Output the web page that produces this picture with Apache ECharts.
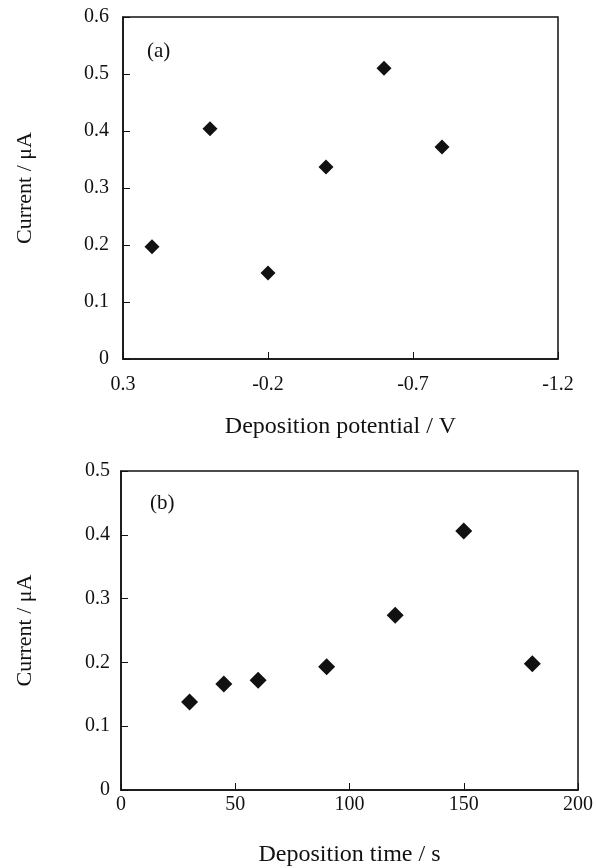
<!DOCTYPE html>
<html>
<head>
<meta charset="utf-8">
<script src="https://cdn.jsdelivr.net/npm/echarts@6/dist/echarts.min.js"></script>
<style>
html,body{margin:0;padding:0;background:#fff;}
#main{width:596px;height:868px;}
</style>
</head>
<body>
<div id="main"></div>
<script>
// Panel (a): current vs deposition potential
const potentialV = [0.2, 0.0, -0.2, -0.4, -0.6, -0.8];
const currentA = [0.197, 0.404, 0.151, 0.337, 0.510, 0.372];
// Panel (b): current vs deposition time
const timeS = [30, 45, 60, 90, 120, 150, 180];
const currentB = [0.138, 0.166, 0.172, 0.193, 0.274, 0.406, 0.198];

const FONT = '"Liberation Serif", "DejaVu Serif", serif';
const INK = '#111';

const chart = echarts.init(document.getElementById('main'), null, {renderer: 'canvas'});

function axisCommon() {
  return {
    axisLine: {show: true, onZero: false, lineStyle: {color: INK, width: 1.5}},
    axisTick: {show: true, inside: true, length: 7, lineStyle: {color: INK, width: 1}},
    splitLine: {show: false},
    axisLabel: {color: INK, fontFamily: FONT, fontSize: 20},
    nameTextStyle: {color: INK, fontFamily: FONT, fontSize: 24}
  };
}

const option = {
  animation: false,
  backgroundColor: '#fff',
  grid: [
    {left: 123, top: 17, width: 435, height: 342, show: true, borderColor: INK, borderWidth: 1.5, backgroundColor: 'transparent'},
    {left: 121, top: 471, width: 461, height: 322, show: true, borderColor: INK, borderWidth: 1.5, backgroundColor: 'transparent'}
  ],
  xAxis: [
    Object.assign(axisCommon(), {
      type: 'value', gridIndex: 0, min: -1.2, max: 0.3, interval: 0.5, inverse: true,
      name: 'Deposition potential / V', nameLocation: 'middle', nameGap: 56,
      axisLabel: {color: INK, fontFamily: FONT, fontSize: 20, margin: 16, formatter: v => v.toFixed(1)}
    }),
    Object.assign(axisCommon(), {
      type: 'value', gridIndex: 1, min: 0, max: 200, interval: 50,
      name: 'Deposition time / s', nameLocation: 'middle', nameGap: 53,
      axisLabel: {color: INK, fontFamily: FONT, fontSize: 20, margin: 5}
    })
  ],
  yAxis: [
    Object.assign(axisCommon(), {
      type: 'value', gridIndex: 0, min: 0, max: 0.6, interval: 0.1,
      name: 'Current / μA', nameLocation: 'middle', nameGap: 87,
      nameTextStyle: {color: INK, fontFamily: FONT, fontSize: 22},
      axisLabel: {color: INK, fontFamily: FONT, fontSize: 20, margin: 14, formatter: v => v === 0 ? '0' : v.toFixed(1)}
    }),
    Object.assign(axisCommon(), {
      type: 'value', gridIndex: 1, min: 0, max: 0.5, interval: 0.1,
      name: 'Current / μA', nameLocation: 'middle', nameGap: 85,
      nameTextStyle: {color: INK, fontFamily: FONT, fontSize: 22},
      axisLabel: {color: INK, fontFamily: FONT, fontSize: 20, margin: 11, formatter: v => v === 0 ? '0' : v.toFixed(1)}
    })
  ],
  graphic: [
    {type: 'text', left: 147, top: 41, style: {text: '(a)', font: '21px ' + FONT, fill: INK}},
    {type: 'text', left: 150, top: 493, style: {text: '(b)', font: '21px ' + FONT, fill: INK}}
  ],
  series: [
    {
      type: 'scatter', xAxisIndex: 0, yAxisIndex: 0, symbol: 'diamond', symbolSize: 15,
      itemStyle: {color: INK, opacity: 1},
      data: potentialV.map((x, i) => [x, currentA[i]])
    },
    {
      type: 'scatter', xAxisIndex: 1, yAxisIndex: 1, symbol: 'diamond', symbolSize: 17,
      itemStyle: {color: INK, opacity: 1},
      data: timeS.map((x, i) => [x, currentB[i]])
    }
  ]
};
chart.setOption(option);
</script>
</body>
</html>
